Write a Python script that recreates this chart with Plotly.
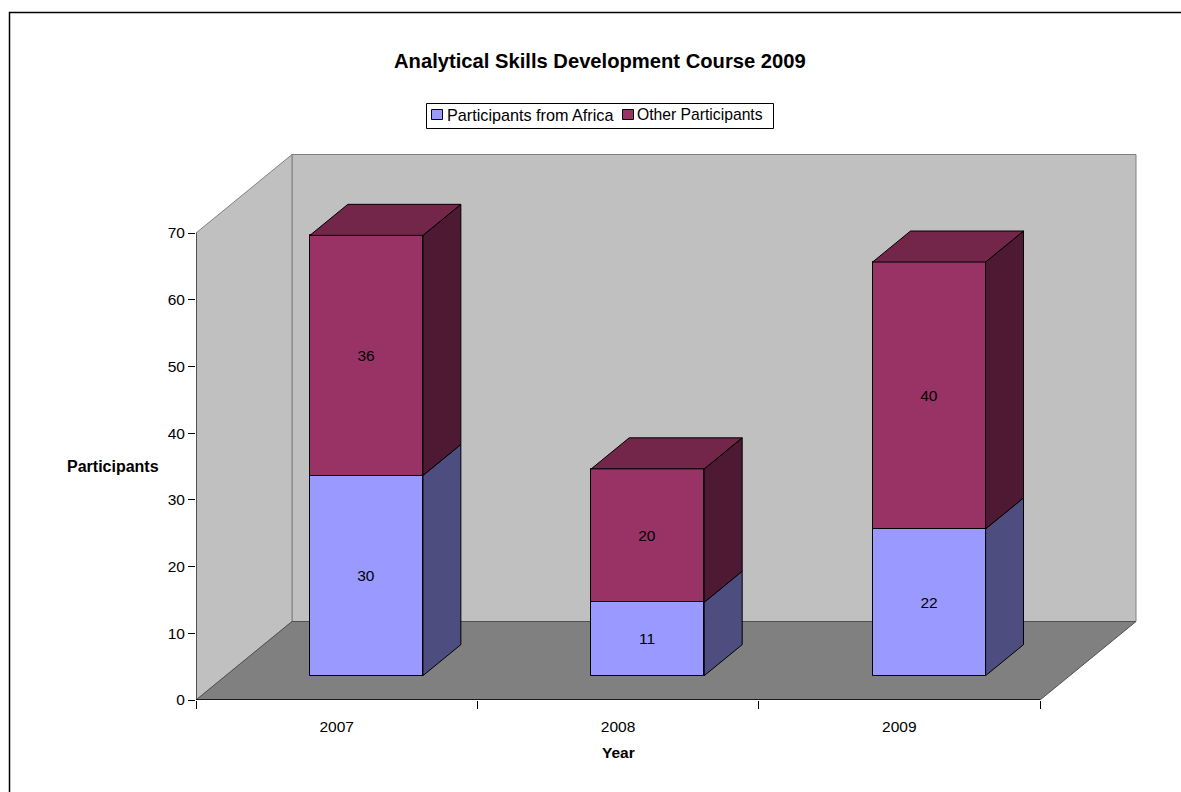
import plotly.graph_objects as go

years = ["2007", "2008", "2009"]
africa = [30, 11, 22]
other = [36, 20, 40]
y_ticks = [0, 10, 20, 30, 40, 50, 60, 70]
x_edges = [-0.5, 0.5, 1.5, 2.5]
series_names = ["Participants from Africa", "Other Participants"]

BLUE, BLUE_SIDE = "#9999FF", "#4D4D80"
PLUM, PLUM_SIDE, PLUM_TOP = "#993366", "#4D1933", "#732649"
WALL, FLOOR, EDGE = "#C0C0C0", "#808080", "#808080"
FONT = "Liberation Sans"

W, H = 1181, 792
L, R, T, B = 196, 1137, 154, 700
PX_X = (1040 - 196) / 3
PX_Y = (699 - 232) / 70
DX = 96 / PX_X
DY = 78.5 / PX_Y
X0, X1 = -0.5, -0.5 + (R - L) / PX_X
Y1 = (B - T) / PX_Y
BAR_W = 113 / PX_X
D_FRONT, D_BACK = 0.31, 0.705


def proj(x, v, d):
    return x + d * DX, v + d * DY


def poly(pts, color, line=EDGE):
    xs = [p[0] for p in pts] + [pts[0][0]]
    ys = [p[1] for p in pts] + [pts[0][1]]
    return go.Scatter(x=xs, y=ys, mode="lines", fill="toself", fillcolor=color,
                      line=dict(color=line, width=1), showlegend=False, hoverinfo="skip")


def path(pts):
    return "M" + " L".join(f"{a},{b}" for a, b in pts) + " Z"


def px(x):
    return (x - L) / (R - L)


def py(y):
    return (B - y) / (B - T)


xs = list(range(len(years)))
front_x = [x + D_FRONT * DX for x in xs]
base0 = D_FRONT * DY
label_font = dict(color="black", size=15.5, family=FONT)

fig = go.Figure()
fig.add_bar(x=front_x, y=africa, base=[base0] * 3, width=BAR_W, name=series_names[0],
            marker=dict(color=BLUE, line=dict(color="black", width=1)),
            text=[str(v) for v in africa], textposition="inside", insidetextanchor="middle",
            textangle=0, constraintext="none", textfont=label_font, hoverinfo="skip", showlegend=False)
fig.add_bar(x=front_x, y=other, base=[base0 + a for a in africa], width=BAR_W, name=series_names[1],
            marker=dict(color=PLUM, line=dict(color="black", width=1)),
            text=[str(v) for v in other], textposition="inside", insidetextanchor="middle",
            textangle=0, constraintext="none", textfont=label_font, hoverinfo="skip", showlegend=False)

for x, a, o in zip(xs, africa, other):
    l, r = x - BAR_W / 2, x + BAR_W / 2
    fig.add_trace(poly([proj(r, 0, D_FRONT), proj(r, 0, D_BACK), proj(r, a, D_BACK), proj(r, a, D_FRONT)], BLUE_SIDE, "black"))
    fig.add_trace(poly([proj(r, a, D_FRONT), proj(r, a, D_BACK), proj(r, a + o, D_BACK), proj(r, a + o, D_FRONT)], PLUM_SIDE, "black"))
    t = a + o
    fig.add_trace(poly([proj(l, t, D_FRONT), proj(r, t, D_FRONT), proj(r, t, D_BACK), proj(l, t, D_BACK)], PLUM_TOP, "black"))

# axis lines
fig.add_trace(go.Scatter(x=[X0, X0], y=[0, 70], mode="lines", line=dict(color="black", width=1),
                         showlegend=False, hoverinfo="skip", cliponaxis=False))
fig.add_trace(go.Scatter(x=[x_edges[0], x_edges[-1]], y=[0, 0], mode="lines", line=dict(color="black", width=1.5),
                         showlegend=False, hoverinfo="skip", cliponaxis=False))

xe = x_edges[-1]
shapes = [
    dict(type="path", path=path([proj(X0, 0, 1), proj(xe, 0, 1), proj(xe, 70, 1), proj(X0, 70, 1)]),
         fillcolor=WALL, line=dict(color=EDGE, width=1), layer="below"),
    dict(type="path", path=path([(X0, 0), proj(X0, 0, 1), proj(X0, 70, 1), (X0, 70)]),
         fillcolor=WALL, line=dict(color=EDGE, width=1), layer="below"),
    dict(type="path", path=path([(X0, 0), (xe, 0), proj(xe, 0, 1), proj(X0, 0, 1)]),
         fillcolor=FLOOR, line=dict(color="#505050", width=1), layer="below"),
    # outer frame, running off the right and bottom of the page
    dict(type="rect", xref="paper", yref="paper", x0=px(9.5), x1=px(1300), y0=py(900), y1=py(12.5),
         line=dict(color="black", width=1.5), layer="below"),
    # legend box and swatches
    dict(type="rect", xref="paper", yref="paper", x0=px(426.5), x1=px(773.5), y0=py(128.5), y1=py(103.5),
         fillcolor="white", line=dict(color="black", width=1), layer="above"),
    dict(type="rect", xref="paper", yref="paper", x0=px(431.5), x1=px(442.5), y0=py(119.5), y1=py(109.5),
         fillcolor=BLUE, line=dict(color="black", width=1), layer="above"),
    dict(type="rect", xref="paper", yref="paper", x0=px(622.5), x1=px(633.5), y0=py(119.5), y1=py(109.5),
         fillcolor=PLUM, line=dict(color="black", width=1), layer="above"),
]

fig.update_layout(
    width=W, height=H, autosize=False,
    margin=dict(l=L, r=W - R, t=T, b=H - B, pad=0),
    paper_bgcolor="white", plot_bgcolor="white",
    font=dict(family=FONT, size=15.5, color="black"),
    barmode="overlay", bargap=0, showlegend=False,
    shapes=shapes,
    xaxis=dict(range=[X0, X1], tickmode="array", tickvals=xs, ticktext=years, showgrid=False, zeroline=False,
               showline=False, ticks="outside", ticklen=12, tickcolor="rgba(0,0,0,0)", tickfont=dict(size=15.5),
               minor=dict(tickmode="array", tickvals=x_edges, ticks="outside", ticklen=8, tickcolor="black", tickwidth=1, showgrid=False)),
    yaxis=dict(range=[0, Y1], tickmode="array", tickvals=y_ticks, showgrid=False, zeroline=False, showline=False,
               ticks="outside", ticklen=7, tickcolor="black", tickwidth=1, tickfont=dict(size=15.5)),
    annotations=[
        dict(text="<b>Analytical Skills Development Course 2009</b>", xref="paper", yref="paper", x=px(599.5), y=py(61),
             showarrow=False, font=dict(size=20.2), xanchor="center", yanchor="middle"),
        dict(text=series_names[0], xref="paper", yref="paper", x=px(447), y=py(114.5), showarrow=False,
             font=dict(size=16.2), xanchor="left", yanchor="middle", xshift=-2),
        dict(text=series_names[1], xref="paper", yref="paper", x=px(637), y=py(114.5), showarrow=False,
             font=dict(size=15.7), xanchor="left", yanchor="middle", xshift=-2),
        dict(text="<b>Participants</b>", xref="paper", yref="y", x=px(112.5), y=35,
             showarrow=False, font=dict(size=16), xanchor="center", yanchor="middle"),
        dict(text="<b>Year</b>", xref="x", yref="paper", x=1, y=py(752),
             showarrow=False, font=dict(size=15.5), xanchor="center", yanchor="middle"),
    ],
)
fig.write_html("out.html", config=dict(displayModeBar=False), post_script="document.body.style.margin='0';")
